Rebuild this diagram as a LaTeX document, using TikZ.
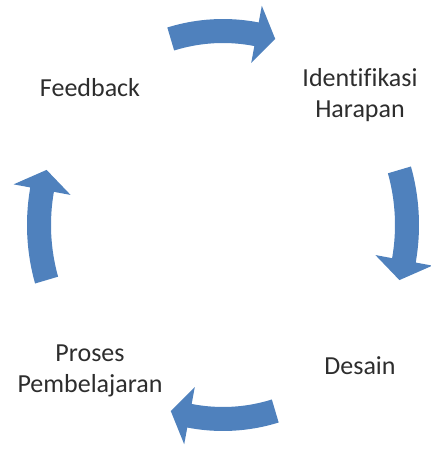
\documentclass[tikz,border=0pt]{standalone}
\usepackage{fontspec}
\setmainfont[Ligatures=NoCommon]{Carlito}
\definecolor{cycleblue}{RGB}{79,129,189}
\definecolor{labelgray}{RGB}{45,45,45}

% Curved block arrow on an ellipse around (223,225), running clockwise
% around the central angle #1: radial tail, shaft, then a triangular head.
\newcommand\cyclearrow[1]{%
  \fill[cycleblue]
    ({#1+16.5}:196 and 206)
      arc[start angle=#1+16.5, end angle=#1-10.5, x radius=196, y radius=206]
    -- ({#1-10.5}:213 and 223)
    -- ({#1-16.5}:184 and 194)
    -- ({#1-10.5}:155 and 165)
    -- ({#1-10.5}:172 and 182)
      arc[start angle=#1-10.5, end angle=#1+16.5, x radius=172, y radius=182]
    -- cycle;}

\begin{document}
\begin{tikzpicture}[x=1pt,y=1pt,
  lbl/.style={anchor=base, inner sep=0pt, text=labelgray,
    font=\fontsize{26}{31}\selectfont}]
  \useasboundingbox (0,0) rectangle (431,450);

  % four arrows of the cycle
  \begin{scope}[shift={(223,225)}]
    \cyclearrow{90}
    \cyclearrow{0}
    \cyclearrow{270}
    \cyclearrow{180}
  \end{scope}

  % stage labels
  \node[lbl] (harapan) at (360,363) {\begin{tabular}[t]{@{}c@{}}Identifikasi\\Harapan\end{tabular}};
  \node[lbl] (desain) at (360,75) {Desain};
  \node[lbl] (proses) at (90,88) {\begin{tabular}[t]{@{}c@{}}Proses\\Pembelajaran\end{tabular}};
  \node[lbl] (feedback) at (90,353) {Feedback};
\end{tikzpicture}
\end{document}
